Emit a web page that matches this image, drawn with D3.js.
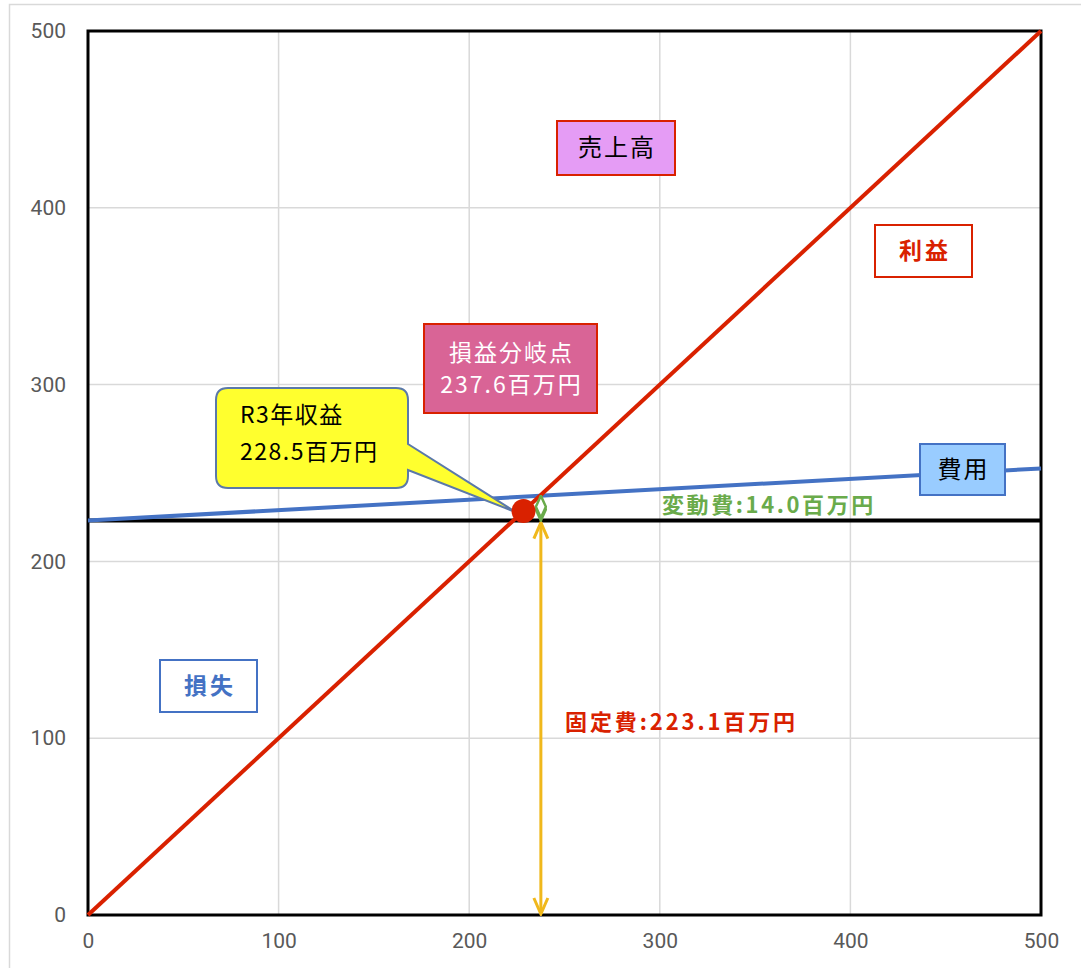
<!DOCTYPE html>
<html>
<head>
<meta charset="utf-8">
<script src="https://cdn.jsdelivr.net/npm/d3@7"></script>
<style>
  html, body { margin: 0; padding: 0; background: #fff; }
  svg { display: block; }
</style>
</head>
<body>
<svg id="chart" width="1081" height="968"></svg>
<script>
// Break-even chart data (units: 百万円)
const xTicks = [0, 100, 200, 300, 400, 500];
const yTicks = [0, 100, 200, 300, 400, 500];
const fixedCost = 223.1;          // 固定費
const breakEven = 237.6;          // 損益分岐点
const variableAtBE = 14.0;        // 変動費 at break-even
const revenueR3 = 228.5;          // R3年収益
const salesLine = [[0, 0], [500, 500]];
const costLine = [[0, fixedCost], [500, fixedCost + variableAtBE / breakEven * 500]];
const fixedLine = [[0, fixedCost], [500, fixedCost]];

const svg = d3.select("#chart");
const margin = { left: 88, top: 31, right: 40, bottom: 53 };
const W = 1081, H = 968;
const x = d3.scaleLinear().domain([0, 500]).range([margin.left, W - margin.right]);
const y = d3.scaleLinear().domain([0, 500]).range([H - margin.bottom, margin.top]);

// chart area frame
svg.append("rect").attr("x", 9.5).attr("y", 4.5).attr("width", 1090).attr("height", 980)
  .attr("fill", "#fff").attr("stroke", "#d9d9d9").attr("stroke-width", 1.5);

// gridlines
svg.append("g").selectAll("line").data(xTicks).join("line")
  .attr("x1", d => x(d)).attr("x2", d => x(d)).attr("y1", y(0)).attr("y2", y(500))
  .attr("stroke", "#d9d9d9").attr("stroke-width", 1.5);
svg.append("g").selectAll("line").data(yTicks).join("line")
  .attr("y1", d => y(d)).attr("y2", d => y(d)).attr("x1", x(0)).attr("x2", x(500))
  .attr("stroke", "#d9d9d9").attr("stroke-width", 1.5);

// axes (labels only)
const axFont = "Roboto, 'Liberation Sans', sans-serif";
const xAxis = svg.append("g").attr("transform", `translate(0,${y(0)})`)
  .call(d3.axisBottom(x).tickValues(xTicks).tickSize(0).tickPadding(18));
const yAxis = svg.append("g").attr("transform", `translate(${x(0)},0)`)
  .call(d3.axisLeft(y).tickValues(yTicks).tickSize(0).tickPadding(22));
[xAxis, yAxis].forEach(a => {
  a.select(".domain").remove();
  a.selectAll("text").attr("fill", "#595959").attr("font-size", 21).attr("font-family", axFont);
});

// plot frame
svg.append("rect").attr("x", x(0)).attr("y", y(500)).attr("width", x(500) - x(0)).attr("height", y(0) - y(500))
  .attr("fill", "none").attr("stroke", "#000").attr("stroke-width", 3);

const line = d3.line().x(d => x(d[0])).y(d => y(d[1]));

// fixed cost, cost, sales lines
svg.append("path").datum(fixedLine).attr("d", line).attr("stroke", "#000").attr("stroke-width", 4).attr("fill", "none");
svg.append("path").datum(costLine).attr("d", line).attr("stroke", "#4472C4").attr("stroke-width", 4).attr("fill", "none");
svg.append("path").datum(salesLine).attr("d", line).attr("stroke", "#D92100").attr("stroke-width", 4).attr("fill", "none");

// arrow markers
const defs = svg.append("defs");
defs.append("marker").attr("id", "vHead").attr("viewBox", "0 0 20 20").attr("refX", 18).attr("refY", 10)
  .attr("markerWidth", 20).attr("markerHeight", 20).attr("markerUnits", "userSpaceOnUse").attr("orient", "auto-start-reverse")
  .append("path").attr("d", "M2,3 L18,10 L2,17").attr("fill", "none").attr("stroke", "#F0B81C").attr("stroke-width", 3);
defs.append("marker").attr("id", "diamond").attr("viewBox", "0 0 24 12").attr("refX", 23).attr("refY", 6)
  .attr("markerWidth", 24).attr("markerHeight", 12).attr("markerUnits", "userSpaceOnUse").attr("orient", "auto-start-reverse")
  .append("path").attr("d", "M1,6 L12,1 L23,6 L12,11 Z").attr("fill", "#fff").attr("stroke", "#6AAB4B").attr("stroke-width", 2.5);

// fixed cost arrow (yellow, double-headed)
svg.append("line").attr("x1", x(breakEven)).attr("x2", x(breakEven)).attr("y1", y(0) - 1).attr("y2", y(fixedCost) + 2)
  .attr("stroke", "#F0B81C").attr("stroke-width", 3)
  .attr("marker-start", "url(#vHead)").attr("marker-end", "url(#vHead)");

// variable cost marker (green)
svg.append("line").attr("x1", x(breakEven)).attr("x2", x(breakEven)).attr("y1", y(fixedCost)).attr("y2", y(fixedCost + variableAtBE))
  .attr("stroke", "#6AAB4B").attr("stroke-width", 2.5)
  .attr("marker-start", "url(#diamond)").attr("marker-end", "url(#diamond)");

const jp = "'Noto Sans CJK JP', 'Noto Sans', sans-serif";

// callout for R3 revenue
const dotX = x(revenueR3), dotY = y(revenueR3);
const bx = 216, by = 388, bw = 192, bh = 100, r = 12;
const tailTop = 444, tailBot = 470;
const callout = d3.path();
callout.moveTo(bx + r, by);
callout.lineTo(bx + bw - r, by);
callout.quadraticCurveTo(bx + bw, by, bx + bw, by + r);
callout.lineTo(bx + bw, tailTop);
callout.lineTo(dotX - 8, dotY + 1);
callout.lineTo(bx + bw, tailBot);
callout.lineTo(bx + bw, by + bh - r);
callout.quadraticCurveTo(bx + bw, by + bh, bx + bw - r, by + bh);
callout.lineTo(bx + r, by + bh);
callout.quadraticCurveTo(bx, by + bh, bx, by + bh - r);
callout.lineTo(bx, by + r);
callout.quadraticCurveTo(bx, by, bx + r, by);
callout.closePath();
svg.append("path").attr("d", callout.toString()).attr("fill", "#FFFF2E").attr("stroke", "#5B79A9").attr("stroke-width", 2);
[["R3年収益", 415], [`${revenueR3.toFixed(1)}百万円`, 452]].forEach(([t, cy]) => {
  svg.append("text").attr("x", 240).attr("y", cy).attr("dy", "0.35em").attr("font-family", jp)
    .attr("font-size", 23).attr("letter-spacing", 1.5).attr("fill", "#000").text(t);
});

// R3 revenue point
svg.append("circle").attr("cx", dotX).attr("cy", dotY).attr("r", 12).attr("fill", "#D92100");

// boxed labels
function box(x0, y0, w, h, fill, stroke, lines, color, size, weight, spacing, lh) {
  svg.append("rect").attr("x", x0).attr("y", y0).attr("width", w).attr("height", h)
    .attr("fill", fill).attr("stroke", stroke).attr("stroke-width", 2);
  const start = y0 + h / 2 - (lines.length - 1) * lh / 2;
  lines.forEach((t, i) => {
    svg.append("text").attr("x", x0 + w / 2 + spacing / 2).attr("y", start + i * lh).attr("dy", "0.35em")
      .attr("text-anchor", "middle").attr("font-family", jp).attr("font-size", size)
      .attr("letter-spacing", spacing)
      .attr("font-weight", weight).attr("fill", color).text(t);
  });
}
box(557, 121, 118, 54, "#E59CF5", "#D92100", ["売上高"], "#000", 24, 400, 2, 0);
box(875, 225, 97, 52, "#fff", "#D92100", ["利益"], "#D92100", 23, 700, 3, 0);
box(424, 324, 173, 89, "#D96496", "#D92100", ["損益分岐点", `${breakEven.toFixed(1)}百万円`], "#fff", 23, 400, 2, 32);
box(920, 444, 85, 51, "#99CCFF", "#4472C4", ["費用"], "#000", 24, 400, 2, 0);
box(160, 660, 97, 52, "#fff", "#4472C4", ["損失"], "#4472C4", 23, 700, 3, 0);

// cost annotations
svg.append("text").attr("x", 662).attr("y", 505).attr("dy", "0.35em").attr("font-family", jp).attr("font-size", 22)
  .attr("letter-spacing", 2.6).attr("font-weight", 700)
  .attr("fill", "#6AAB4B").text(`変動費:${variableAtBE.toFixed(1)}百万円`);
svg.append("text").attr("x", 565).attr("y", 722).attr("dy", "0.35em").attr("font-family", jp).attr("font-size", 22)
  .attr("letter-spacing", 2.9).attr("font-weight", 700)
  .attr("fill", "#D92100").text(`固定費:${fixedCost.toFixed(1)}百万円`);
</script>
</body>
</html>
